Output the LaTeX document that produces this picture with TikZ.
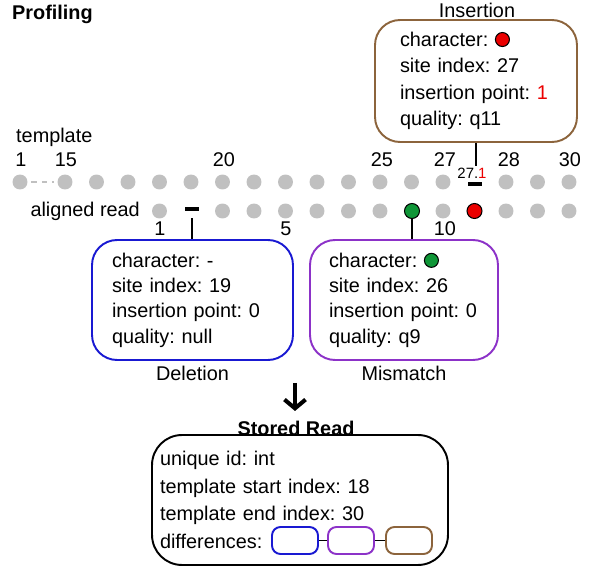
\documentclass[tikz,border=0pt]{standalone}
\usepackage{fontspec}
\setmainfont{Liberation Sans}
\usetikzlibrary{arrows,arrows.meta}
\definecolor{dotgrey}{RGB}{192,192,192}
\definecolor{delblue}{RGB}{25,25,210}
\definecolor{mispurple}{RGB}{140,50,200}
\definecolor{insbrown}{RGB}{140,100,60}
\definecolor{mgreen}{RGB}{15,150,55}
\definecolor{ired}{RGB}{235,0,0}
% small coloured dot used inside the boxes
\newcommand{\chardot}[1]{\tikz[baseline=-0.65ex]\draw[line width=0.6pt,fill=#1] (0,0) circle (0.14cm);}
\begin{document}
\frenchspacing
\begin{tikzpicture}[x=0.02cm,y=-0.02cm,font=\fontsize{11.3}{14.4}\selectfont\frenchspacing,
    gdot/.style={circle,fill=dotgrey,inner sep=0pt,minimum size=0.3cm},
    cdot/.style={circle,draw,fill=#1,inner sep=0pt,minimum size=0.3cm,line width=0.6pt},
    recbox/.style={draw=#1,line width=1.1pt,rounded corners=0.5cm,align=left,inner ysep=0pt},
    smallbox/.style={draw=#1,line width=1.1pt,rounded corners=0.17cm,minimum width=0.92cm,minimum height=0.54cm,inner sep=0pt}]
            \useasboundingbox (0,0) rectangle (600,568);
            % \helpgrid
            \node[anchor=west,font=\fontsize{11.3}{14.4}\bfseries] (prof) at (6,14) {Profiling};
            \node[anchor=west] (tmpl) at (10,137) {template};
            \node[anchor=east] (aread) at (146,211) {aligned read};

            % template row
            \node[gdot] (t1) at (20,182) {};
            \foreach \i in {15,...,27} \node[gdot] (t\i) at ({65+(\i-15)*31.5},182) {};
            \foreach \i in {28,29,30} \node[gdot] (t\i) at ({65+(\i-14)*31.5},182) {};
            \draw[dotgrey,dashed,line width=0.7pt,shorten <=2pt,shorten >=2pt] (t1) -- (t15);
            \foreach \i/\x in {1/21,15/66,20/224,25/382,27/445,28/509,30/570} \node (n\i) at (\x,160) {\i};
            \node[font=\fontsize{8.5}{10}\selectfont,inner sep=1pt] (inslbl) at (472,173) {27.\textcolor{ired}{1}};
            \node[fill=black,inner sep=0pt,minimum width=0.3cm,minimum height=0.07cm] (insmark) at (475,184) {};

            % aligned read row
            \foreach \s in {18,20,21,22,23,24,25,27,29,30,31} \node[gdot] (r\s) at ({65+(\s-15)*31.5},211) {};
            \node[fill=black,inner sep=0pt,minimum width=0.3cm,minimum height=0.07cm] (delmark) at (192,209) {};
            \node[cdot=mgreen] (r26) at (412,211) {};
            \node[cdot=ired] (r28) at (474.5,211) {};
            \node (p1) at (160,229) {1};
            \node (p5) at (286,229) {5};
            \node (p10) at (445,229) {10};

            % difference boxes
            \node[recbox=delblue,minimum height=2.4cm,inner xsep=0.4cm,text width=3.22cm] (del) at (192.5,300) {character: -\\site index: 19\\insertion point: 0\\quality: null};
            \node (dellbl) at (192.5,373) {Deletion};
            \node[recbox=mispurple,minimum height=2.4cm,inner xsep=0.38cm,text width=3.0cm] (mis) at (404,300) {character: \chardot{mgreen}\\site index: 26\\insertion point: 0\\quality: q9};
            \node (mislbl) at (404,373) {Mismatch};
            \node[recbox=insbrown,minimum height=2.44cm,inner xsep=0.5cm,text width=3.04cm,font=\fontsize{11.3}{15.1}\selectfont] (ins) at (476,81) {character: \chardot{ired}\\site index: 27\\insertion point: \textcolor{ired}{1}\\quality: q11};
            \node (inslbl2) at (477,10) {Insertion};

            \draw[line width=0.6pt] (ins.south) -- (ins.south |- inslbl.north);
            \draw[line width=0.6pt,shorten <=0.14cm] (delmark.south) -- (delmark.south |- del.north);
            \draw[line width=0.6pt] (r26.south) -- (r26.south |- mis.north);

            % stored read
            \coordinate (arrtop) at (295,383);
            \node[font=\fontsize{11.3}{14.4}\bfseries] (stitle) at (296,428) {Stored Read};
            \draw[-{Straight Barb[length=5pt,width=12pt]},line width=2.3pt,shorten >=2pt] (arrtop) -- (stitle.north -| arrtop);
            \node[recbox=black,rounded corners=0.6cm,minimum height=2.6cm,inner xsep=0.16cm,text width=5.6cm,font=\fontsize{11.3}{15.7}\selectfont] (stored) at (300,500) {unique id: int\\template start index: 18\\template end index: 30\\differences:};
            \node[smallbox=delblue] (d1) at (295,540.5) {};
            \node[smallbox=mispurple] (d2) at (351,540.5) {};
            \node[smallbox=insbrown] (d3) at (409,540.5) {};
            \draw[line width=0.6pt] (d1) -- (d2);
            \draw[line width=0.6pt] (d2) -- (d3);
\end{tikzpicture}
\end{document}
